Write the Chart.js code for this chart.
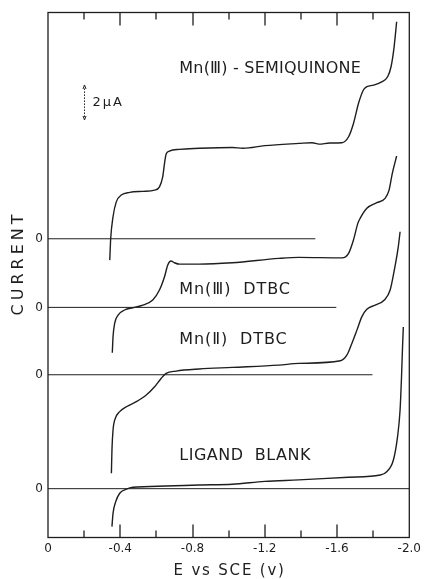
<!DOCTYPE html>
<html>
<head>
<meta charset="utf-8">
<script src="https://cdn.jsdelivr.net/npm/chart.js@4"></script>
<style>
  html, body { margin: 0; padding: 0; background: #fff; }
</style>
</head>
<body>
<canvas id="polarogram" width="425" height="579"></canvas>
<script>
// Potential axis (V vs SCE, shown as negative values)
const eTicks = [0, 0.4, 0.8, 1.2, 1.6, 2.0];
const eTickLabels = ['0', '-0.4', '-0.8', '-1.2', '-1.6', '-2.0'];
const eMinorTicks = [0.2, 0.4, 0.6, 0.8, 1.0, 1.2, 1.4, 1.6, 1.8];

// each trace is drawn on its own zero line (µA offset on the current axis)
const traceNames = ['Mn(Ⅲ) - SEMIQUINONE', 'Mn(Ⅲ)  DTBC', 'Mn(Ⅱ)  DTBC', 'LIGAND  BLANK'];
const baselines = [17.07, 13.15, 9.30, 2.79];
const baselineEnds = [1.48, 1.596, 1.796, 2.0];

// Mn(III)-semiquinone
const sqE = [0.342, 0.347, 0.36, 0.378, 0.406, 0.452, 0.525, 0.59, 0.617, 0.635, 0.645, 0.654, 0.672, 0.727, 0.837, 1.02, 1.08, 1.2, 1.39, 1.462, 1.5, 1.56, 1.627, 1.664, 1.691, 1.719, 1.746, 1.765, 1.802, 1.847, 1.88, 1.899, 1.916, 1.93];
const sqI = [-1.22, 0, 1.26, 2.11, 2.5, 2.65, 2.71, 2.78, 2.97, 3.54, 4.31, 4.84, 5.01, 5.11, 5.17, 5.22, 5.17, 5.32, 5.45, 5.49, 5.41, 5.47, 5.49, 5.83, 6.59, 7.74, 8.5, 8.69, 8.78, 8.97, 9.26, 9.83, 10.97, 12.4];

// Mn(III) DTBC
const m3E = [0.356, 0.36, 0.369, 0.388, 0.424, 0.47, 0.525, 0.58, 0.617, 0.645, 0.663, 0.681, 0.7, 0.727, 0.837, 1.02, 1.278, 1.388, 1.627, 1.664, 1.691, 1.715, 1.728, 1.765, 1.82, 1.866, 1.888, 1.906, 1.93];
const m3I = [-2.59, -1.68, -0.91, -0.44, -0.15, -0.02, 0.13, 0.42, 0.99, 1.75, 2.42, 2.65, 2.55, 2.47, 2.47, 2.55, 2.8, 2.86, 2.83, 3.09, 3.85, 4.8, 5.09, 5.66, 5.98, 6.23, 6.7, 7.66, 8.65];

// Mn(II) DTBC
const m2E = [0.351, 0.354, 0.36, 0.369, 0.397, 0.434, 0.489, 0.544, 0.59, 0.626, 0.654, 0.709, 0.837, 1.02, 1.278, 1.388, 1.618, 1.655, 1.682, 1.71, 1.737, 1.765, 1.811, 1.862, 1.894, 1.917, 1.939, 1.949];
const m2I = [-5.63, -4.3, -3.16, -2.59, -2.11, -1.83, -1.54, -1.16, -0.69, -0.21, 0.08, 0.21, 0.33, 0.42, 0.55, 0.65, 0.8, 1.13, 1.79, 2.55, 3.31, 3.74, 3.98, 4.27, 4.84, 5.98, 7.31, 8.17];

// ligand blank
const lbE = [0.354, 0.36, 0.375, 0.397, 0.434, 0.47, 0.654, 0.837, 1.02, 1.2, 1.388, 1.664, 1.839, 1.875, 1.912, 1.935, 1.949, 1.957, 1.963, 1.967];
const lbI = [-2.17, -1.41, -0.74, -0.26, -0.03, 0.08, 0.15, 0.21, 0.25, 0.42, 0.5, 0.65, 0.78, 0.97, 1.64, 2.97, 4.5, 6.4, 8.21, 9.24];

const traces = [[sqE, sqI], [m3E, m3I], [m2E, m2I], [lbE, lbI]];
const scaleBarUA = 2;

const ink = '#1e1e1e';
const fontFamily = '"DejaVu Sans", "Liberation Sans", sans-serif';

const datasets = [];
traces.forEach(([e, cur], k) => {
    // zero line of the trace
    datasets.push({
        label: traceNames[k] + ' zero',
        data: [{ x: 0, y: baselines[k] }, { x: baselineEnds[k], y: baselines[k] }],
        borderColor: ink,
        borderWidth: 1,
        pointRadius: 0
    });
    datasets.push({
        label: traceNames[k],
        data: e.map((v, i) => ({ x: v, y: cur[i] + baselines[k] })),
        borderColor: ink,
        borderWidth: 1.4,
        pointRadius: 0,
        cubicInterpolationMode: 'monotone'
    });
});

// frame, inward tick marks, scale bar, titles and the trace labels
const decorations = {
    id: 'decorations',
    afterDraw(chart) {
        const { ctx, chartArea: a, scales: { x, y } } = chart;
        ctx.save();
        ctx.strokeStyle = ink;
        ctx.fillStyle = ink;
        ctx.lineWidth = 1.3;
        ctx.strokeRect(a.left, a.top, a.right - a.left, a.bottom - a.top);

        // tick marks pointing into the plot, longer ones every 0.4 V
        eMinorTicks.forEach((v, i) => {
            const px = Math.round(x.getPixelForValue(v));
            const len = i % 2 === 1 ? 13 : 7;
            ctx.beginPath();
            ctx.moveTo(px, a.bottom);
            ctx.lineTo(px, a.bottom - len);
            ctx.stroke();
            ctx.beginPath();
            ctx.moveTo(px, a.top);
            ctx.lineTo(px, a.top + len);
            ctx.stroke();
        });

        // 2 µA scale bar
        const bx = Math.round(x.getPixelForValue(0.198)) + 0.5;
        const yLo = y.getPixelForValue(23.86);
        const yHi = y.getPixelForValue(23.86 + scaleBarUA);
        ctx.lineWidth = 1;
        ctx.setLineDash([1.5, 1.5]);
        ctx.beginPath();
        ctx.moveTo(bx, yLo - 3);
        ctx.lineTo(bx, yHi + 3);
        ctx.stroke();
        ctx.setLineDash([]);
        ctx.beginPath();
        ctx.moveTo(bx - 1.5, yHi + 4); ctx.lineTo(bx, yHi); ctx.lineTo(bx + 1.5, yHi + 4);
        ctx.moveTo(bx - 1.5, yLo - 4); ctx.lineTo(bx, yLo); ctx.lineTo(bx + 1.5, yLo - 4);
        ctx.stroke();
        ctx.font = '13px ' + fontFamily;
        ctx.letterSpacing = '2px';
        ctx.textBaseline = 'middle';
        ctx.textAlign = 'left';
        ctx.fillText('2µA', bx + 8, (yLo + yHi) / 2);

        // trace labels
        ctx.font = '16px ' + fontFamily;
        const labelY = [26.77, 14.14, 11.29, 4.66];
        const labelSpacing = ['0.2px', '0.9px', '0.9px', '0.5px'];
        traceNames.forEach((name, k) => {
            ctx.letterSpacing = labelSpacing[k];
            ctx.fillText(name, x.getPixelForValue(0.727), y.getPixelForValue(labelY[k]));
        });

        // axis titles
        ctx.font = '15px ' + fontFamily;
        ctx.letterSpacing = '1.8px';
        ctx.textAlign = 'center';
        ctx.fillText('E vs SCE (v)', (a.left + a.right) / 2 + 1, 571);

        ctx.font = '16px ' + fontFamily;
        ctx.letterSpacing = '4px';
        ctx.translate(19, 263);
        ctx.rotate(-Math.PI / 2);
        ctx.fillText('CURRENT', 0, 0);
        ctx.restore();
    }
};

new Chart(document.getElementById('polarogram'), {
    type: 'line',
    data: { datasets },
    options: {
        responsive: false,
        animation: false,
        layout: { padding: { top: 12.5, right: 14, left: 0, bottom: 0 } },
        plugins: {
            legend: { display: false },
            tooltip: { enabled: false }
        },
        scales: {
            x: {
                type: 'linear',
                min: 0,
                max: 2.0,
                afterBuildTicks: (scale) => { scale.ticks = eTicks.map(v => ({ value: v })); },
                afterFit: (scale) => { scale.height = 41.5; },
                grid: { display: false, drawTicks: false },
                border: { display: false },
                ticks: {
                    color: ink,
                    padding: 4,
                    maxRotation: 0,
                    font: { family: fontFamily, size: 12 },
                    callback: (v, i) => eTickLabels[i]
                }
            },
            y: {
                type: 'linear',
                min: 0,
                max: 30,
                afterBuildTicks: (scale) => { scale.ticks = baselines.map(v => ({ value: v })); },
                afterFit: (scale) => { scale.width = 48; },
                grid: { display: false, drawTicks: false },
                border: { display: false },
                ticks: {
                    color: ink,
                    padding: 5,
                    font: { family: fontFamily, size: 12 },
                    callback: () => '0'
                }
            }
        }
    },
    plugins: [decorations]
});
</script>
</body>
</html>
